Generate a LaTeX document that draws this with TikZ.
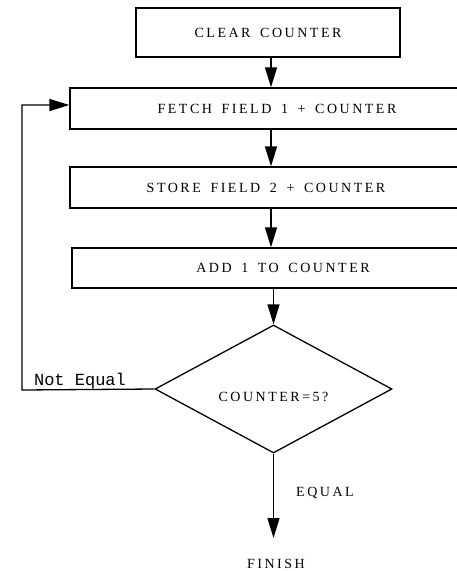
\documentclass[tikz,border=0pt]{standalone}
\usepackage{fontspec}
\setmainfont{Liberation Serif}
\newfontfamily\boxfont[LetterSpace=18,WordSpace=1.6]{Liberation Serif}
\newfontfamily\monofont{Liberation Mono}
\usetikzlibrary{shapes.geometric,arrows.meta}
\begin{document}
\begin{tikzpicture}[x=1pt,y=-1pt,
  line width=1.3pt,
  procbox/.style={draw, rectangle, inner sep=0pt, font=\boxfont\fontsize{14}{16}\selectfont},
  decision/.style={draw, diamond, inner sep=0pt, minimum width=237pt, minimum height=128pt, font=\boxfont\fontsize{14}{16}\selectfont},
  lbl/.style={inner sep=0pt, font=\boxfont\fontsize{14}{16}\selectfont},
  arr/.style={-{Triangle[length=20pt,width=12pt]}}]
\useasboundingbox (0,0) rectangle (457,571);
\clip (0,0) rectangle (457,571);
\node[procbox, minimum width=264pt, minimum height=49pt] (clear) at (268,32.5) {CLEAR COUNTER};
\node[procbox, minimum width=414pt, minimum height=41pt] (fetch) at (277,108.5) {FETCH FIELD 1 + COUNTER};
\node[procbox, minimum width=392pt, minimum height=41pt] (store) at (266,187.5) {STORE FIELD 2 + COUNTER};
\node[procbox, minimum width=422pt, minimum height=40pt] (add) at (283,268) {ADD 1 TO COUNTER};
\node[decision] (dia) at (273.5,389) {\smash{\raisebox{-12pt}{COUNTER=5?}}\hspace{26pt}};
\node[lbl] (finish) at (276,564) {FINISH};
\node[lbl] (equal) at (325,493) {EQUAL};
\node[inner sep=0pt, font=\monofont\fontsize{17}{19}\selectfont] (neq) at (80,381) {Not Equal};
\coordinate (ax) at (271,0);
\coordinate (lp) at (22,390);
\coordinate (fin) at (274,538);
\draw[arr] (clear.south -| ax) -- (fetch.north -| ax);
\draw[arr] (fetch.south -| ax) -- (store.north -| ax);
\draw[arr] (store.south -| ax) -- (add.north -| ax);
\draw[arr] (add.south -| dia.north) -- (dia.north);
\draw[arr] (dia.south) -- (dia.south |- fin);
\draw[arr] (dia.west) -- (lp) |- ([yshift=3.5pt]fetch.west);
\end{tikzpicture}
\end{document}
